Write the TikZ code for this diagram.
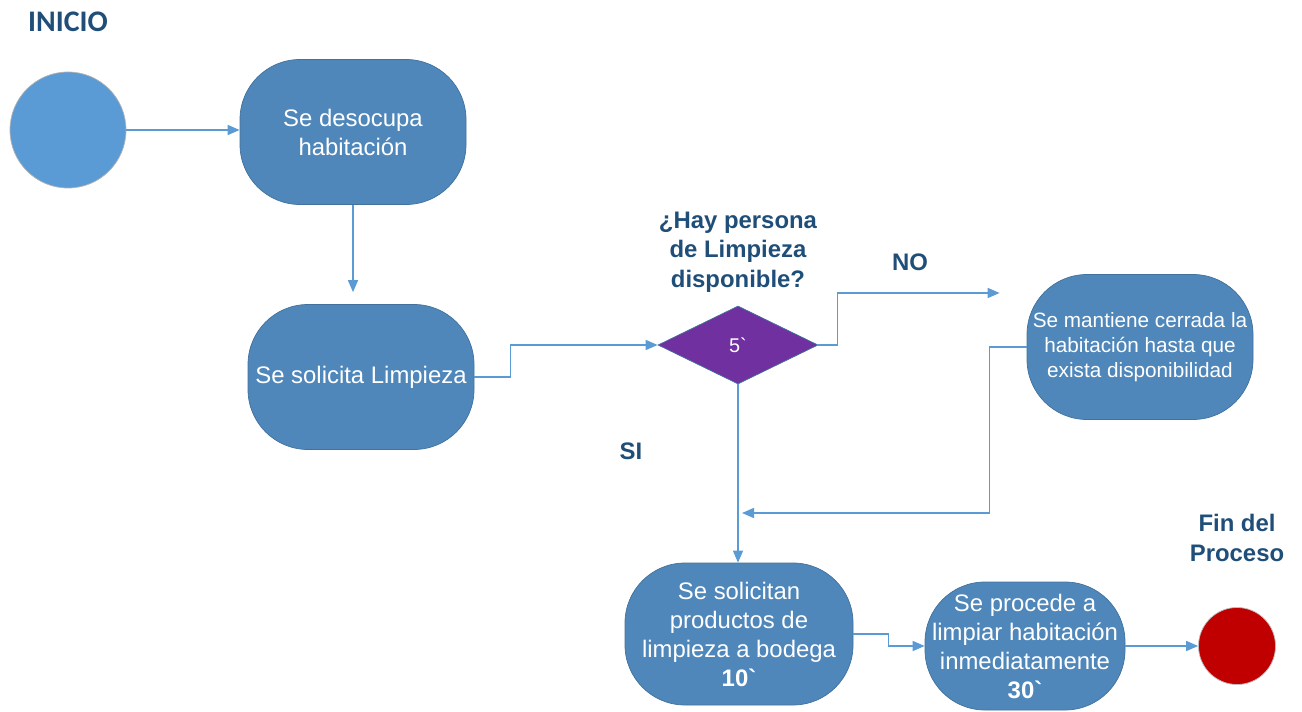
\documentclass[tikz,border=0pt]{standalone}
\usepackage{fontspec}
\setmainfont{Liberation Sans}
\newfontfamily\titlefont{Carlito}
\usetikzlibrary{shapes.geometric, arrows.meta, positioning, calc}
\definecolor{boxblue}{RGB}{79,135,186}
\definecolor{boxedge}{RGB}{65,113,156}
\definecolor{lineblue}{RGB}{91,155,213}
\definecolor{headblue}{RGB}{31,78,121}
\definecolor{gatepurple}{RGB}{112,48,160}
\definecolor{endred}{RGB}{192,0,0}
\tikzstyle{activity} = [rectangle, rounded corners=1.2cm, minimum width=4.52cm, minimum height=2.9cm, inner sep=1pt, text centered, align=center, draw=boxedge, fill=boxblue, text=white, font=\fontsize{13.6}{16.5}\selectfont]
\tikzstyle{gate} = [diamond, aspect=2, minimum width=3.2cm, minimum height=1.56cm, inner sep=0pt, draw=boxedge, fill=gatepurple, text=white, font=\fontsize{11.3}{13}\selectfont]
\tikzstyle{startpoint} = [circle, minimum size=2.32cm, draw=black!30, fill=lineblue]
\tikzstyle{endpoint} = [circle, minimum size=1.54cm, draw=black!25, fill=endred]
\tikzstyle{heading} = [text=headblue, align=center, font=\bfseries\fontsize{13.6}{16.7}\selectfont]
\tikzstyle{arrow} = [line width=0.85pt, draw=lineblue, -{Triangle[length=0.24cm, width=0.2cm, fill=lineblue]}]

\begin{document}
\begin{tikzpicture}[node distance=2cm]
    \useasboundingbox (0,0) rectangle (26.04,-14.24);
    \node (start) [startpoint] at (1.36,-2.60) {};
    \node (inicio) [heading, above of=start, yshift=0.16cm, font=\titlefont\bfseries\fontsize{17}{20}\selectfont] {INICIO};
    \node (desocupa) [activity, right of=start, xshift=3.7cm, yshift=-0.04cm] {Se desocupa\\habitación};
    \node (solicita) [activity, below of=desocupa, yshift=-2.9cm, xshift=0.16cm] {Se solicita Limpieza};
    \node (check) [gate, right of=solicita, xshift=5.54cm, yshift=0.64cm] {5\textasciigrave};
    \node (pregunta) [heading, above of=check, yshift=-0.14cm] {¿Hay persona\\de Limpieza\\disponible?};
    \node (mantiene) [activity, right of=check, xshift=6.04cm, yshift=-0.04cm, font=\fontsize{11.8}{14.2}\selectfont] {Se mantiene cerrada la\\habitación hasta que\\exista disponibilidad};
    \node (no) [heading] at (18.20,-5.24) {NO};
    \node (si) [heading] at (12.62,-9.02) {SI};
    \node (productos) [activity, below of=check, yshift=-3.78cm, xshift=0.02cm, minimum width=4.56cm, minimum height=2.84cm] {Se solicitan\\productos de\\limpieza a bodega\\\textbf{10\textasciigrave}};
    \node (procede) [activity, right of=productos, xshift=3.72cm, yshift=-0.24cm, minimum width=4cm, minimum height=2.56cm] {Se procede a\\limpiar habitación\\inmediatamente\\\textbf{30\textasciigrave}};
    \node (fin) [endpoint, right of=procede, xshift=2.24cm] {};
    \node (finlabel) [heading, above of=fin, yshift=0.16cm] {Fin del\\Proceso};
    \coordinate (merge) at (14.84,-10.26);

    \draw [arrow] (start.east) -- (start.east -| desocupa.west);
    \draw [arrow, shorten >=0.24cm] (desocupa) -- (desocupa |- solicita.north);
    \draw [arrow] (solicita.east) -- ++(0.72,0) |- (check.west);
    \draw [arrow, shorten >=0.54cm] (check.east) -- ++(0.38,0) |- ([yshift=1.08cm]mantiene.west);
    \draw [arrow] (mantiene.west) -- ++(-0.74,0) |- (merge);
    \draw [arrow] (check.south) -- (check.south |- productos.north);
    \draw [arrow] (productos.east) -- ++(0.70,0) |- (procede.west);
    \draw [arrow] (procede.east) -- (fin.west);
\end{tikzpicture}
\end{document}
